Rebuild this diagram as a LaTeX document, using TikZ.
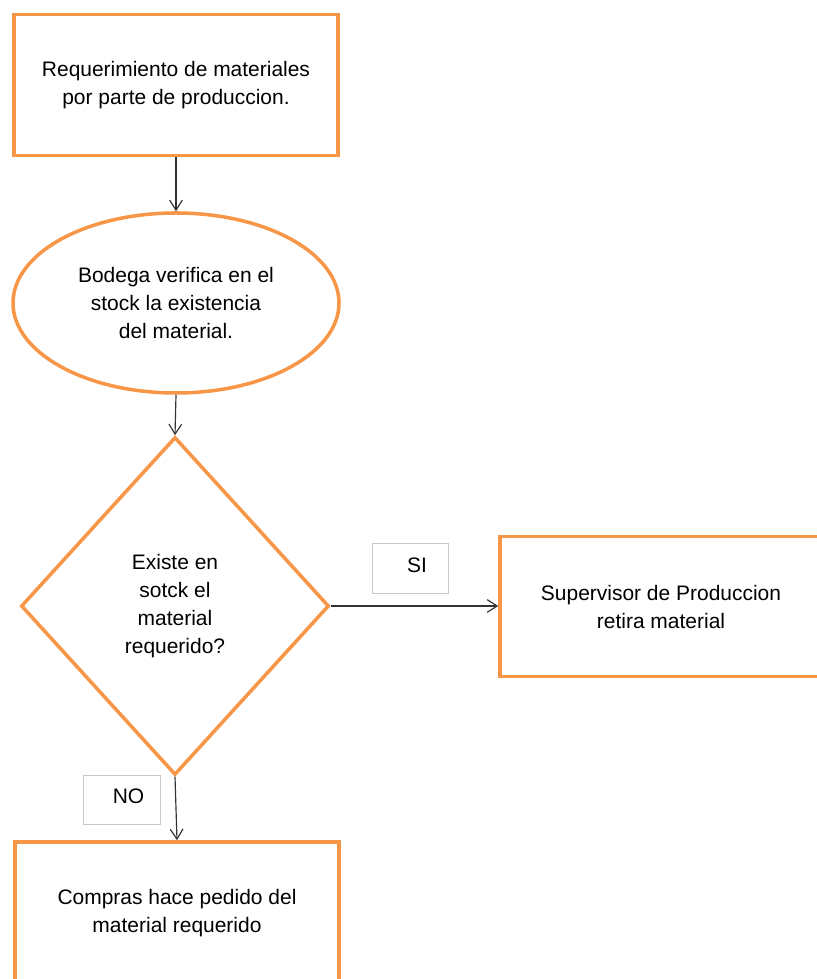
\documentclass[tikz,border=0pt]{standalone}
\usepackage{fontspec}
\setmainfont{Liberation Sans}
\usetikzlibrary{shapes.geometric,arrows.meta}
\definecolor{flowor}{RGB}{247,150,70}
\definecolor{tagline}{RGB}{200,200,200}

\begin{document}
\begin{tikzpicture}[
   box/.style={rectangle,draw=flowor,line width=3pt,align=center,
    font=\fontsize{17.9}{23.9}\selectfont,inner sep=0pt},
   bubble/.style={ellipse,draw=flowor,line width=3pt,align=center,
    font=\fontsize{17.9}{23.9}\selectfont,inner sep=0pt},
   decision/.style={diamond,draw=flowor,line width=3pt,align=center,
    font=\fontsize{17.9}{23.9}\selectfont,inner sep=0pt},
   tag/.style={rectangle,draw=tagline,line width=0.8pt,
    font=\fontsize{17.9}{23.9}\selectfont,inner sep=0pt},
   flow/.style={draw=black!80,line width=1pt,
    -{Straight Barb[length=0.3cm,width=0.38cm]}}
    ]

    \useasboundingbox (0,0) rectangle (24.48,29.37);

    % Shapes:
    \node[box,minimum width=9.72cm,minimum height=4.23cm] at (5.28,26.82) (req)
      {Requerimiento de materiales\\por parte de produccion.};
    \node[bubble,minimum width=9.78cm,minimum height=5.4cm] at (5.28,20.28) (stock)
      {Bodega verifica en el\\stock la existencia\\del material.};
    \node[decision,minimum width=9.24cm,minimum height=10.14cm] at (5.25,11.19) (exist)
      {Existe en\\sotck el\\material\\requerido?};
    \node[box,minimum width=9.66cm,minimum height=4.2cm] at (19.83,11.17) (retira)
      {Supervisor de Produccion\\retira material};
    \node[box,minimum width=9.72cm,minimum height=4.26cm] at (5.31,1.98) (compras)
      {Compras hace pedido del\\material requerido};

    % SI / NO labels
    \node[tag,minimum width=2.28cm,minimum height=1.5cm] at (12.3,12.33) (si)
      {\hspace*{0.42cm}SI\raisebox{0pt}[0pt][0.18cm]{}};
    \node[tag,minimum width=2.31cm,minimum height=1.47cm] at (3.645,5.385) (no)
      {\hspace*{0.42cm}NO\raisebox{0pt}[0pt][0.18cm]{}};

    % arrows
    \draw[flow] (req.south) -- (stock.north);
    \draw[flow] (stock.south) -- (exist.north);
    \draw[flow] (exist.east) -- (exist.east -| retira.west);  % SI
    \draw[flow] (exist.south) -- (compras.north); % NO

\end{tikzpicture}
\end{document}
